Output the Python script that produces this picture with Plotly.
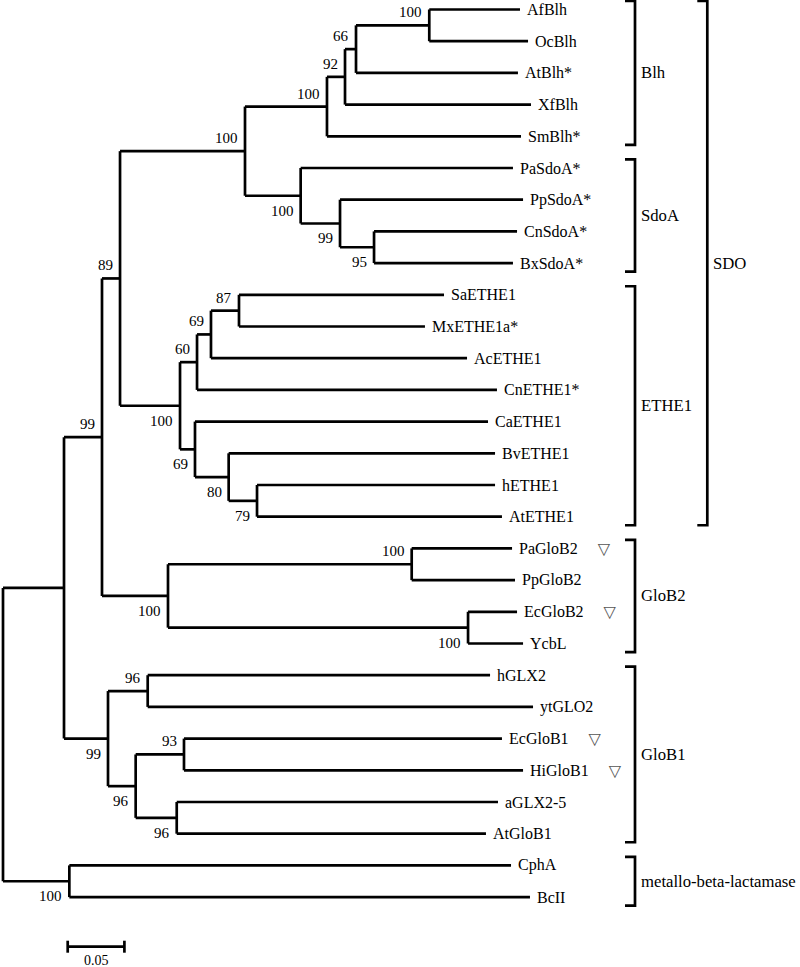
import plotly.graph_objects as go

# ---------------- data (tree) ----------------
# nodes in preorder: name, parent, depth from root (substitutions/site), bootstrap
node_names = [
    "root", "A", "B", "SDO", "C", "Blh", "n92", "n66", "n100Blh",
    "AfBlh", "OcBlh", "AtBlh*", "XfBlh", "SmBlh*",
    "SdoA", "PaSdoA*", "n99", "PpSdoA*", "n95", "CnSdoA*", "BxSdoA*",
    "ETHE1", "n60", "n69", "n87", "SaETHE1", "MxETHE1a*", "AcETHE1", "CnETHE1*",
    "n69b", "CaETHE1", "n80", "BvETHE1", "n79", "hETHE1", "AtETHE1",
    "GloB2", "n100a", "PaGloB2", "PpGloB2", "n100b", "EcGloB2", "YcbL",
    "GloB1", "n96", "hGLX2", "ytGLO2", "n96b", "n93", "EcGloB1", "HiGloB1",
    "n96c", "aGLX2-5", "AtGloB1",
    "MBL", "CphA", "BcII",
]
node_parent = [
    None, "root", "A", "B", "SDO", "C", "Blh", "n92", "n66",
    "n100Blh", "n100Blh", "n66", "n92", "Blh",
    "C", "SdoA", "SdoA", "n99", "n99", "n95", "n95",
    "SDO", "ETHE1", "n60", "n69", "n87", "n87", "n69", "n60",
    "ETHE1", "n69b", "n69b", "n80", "n80", "n79", "n79",
    "B", "GloB2", "n100a", "n100a", "GloB2", "n100b", "n100b",
    "A", "GloB1", "n96", "n96", "GloB1", "n96b", "n93", "n93",
    "n96b", "n96c", "n96c",
    "root", "MBL", "MBL",
]
node_depth = [
    0.0, 0.0538, 0.0873, 0.1032, 0.2134, 0.2857, 0.3016, 0.3113, 0.3759,
    0.4559, 0.4630, 0.4541, 0.4656, 0.4568,
    0.2625, 0.4497, 0.2972, 0.4586, 0.3272, 0.4533, 0.4497,
    0.1561, 0.1711, 0.1834, 0.2081, 0.3889, 0.3721, 0.4092, 0.4356,
    0.1693, 0.4277, 0.1990, 0.4339, 0.2240, 0.4339, 0.4400,
    0.1455, 0.3604, 0.4489, 0.4515, 0.4101, 0.4533, 0.4586,
    0.0926, 0.1276, 0.4295, 0.4674, 0.1170, 0.1596, 0.4400, 0.4586,
    0.1532, 0.4365, 0.4259,
    0.0585, 0.4480, 0.4647,
]
node_support = [
    None, None, 99, 89, 100, 100, 92, 66, 100,
    None, None, None, None, None,
    100, None, 99, None, 95, None, None,
    100, 60, 69, 87, None, None, None, None,
    69, None, 80, None, 79, None, None,
    100, 100, None, None, 100, None, None,
    99, 96, None, None, 96, 93, None, None,
    96, None, None,
    100, None, None,
]
# leaves flagged with an open triangle
marked_leaves = ["PaGloB2", "EcGloB2", "EcGloB1", "HiGloB1"]

# clade brackets
group_names = ["Blh", "SdoA", "ETHE1", "GloB2", "GloB1", "metallo-beta-lactamase", "SDO"]
group_first = ["AfBlh", "PaSdoA*", "SaETHE1", "PaGloB2", "hGLX2", "CphA", "AfBlh"]
group_last = ["SmBlh*", "BxSdoA*", "AtETHE1", "YcbL", "AtGloB1", "BcII", "AtETHE1"]
group_level = [0, 0, 0, 0, 0, 0, 1]

scale_length = 0.05

# ---------------- layout / style ----------------
W, H = 800, 967
PX_PER_UNIT = 1134.0      # horizontal pixels per substitution/site
X0_PX = 3.0               # pixel of root
PX_PER_LEAF = 31.7
Y0_PX = 9.5
FONT = "Liberation Serif, Times New Roman, serif"
LW = 2.7
below_labels = {"SdoA", "n99", "n95", "ETHE1", "n69b", "n80", "n79", "GloB2",
                "n100b", "GloB1", "n96b", "n96c", "MBL"}

depth = dict(zip(node_names, node_depth))
support = dict(zip(node_names, node_support))
children = {n: [] for n in node_names}
for n, p in zip(node_names, node_parent):
    if p is not None:
        children[p].append(n)
leaves = [n for n in node_names if not children[n]]
ypos = {n: i for i, n in enumerate(leaves)}
for n in reversed(node_names):
    if children[n]:
        ypos[n] = (ypos[children[n][0]] + ypos[children[n][-1]]) / 2.0

xs, ys = [], []
for n, p in zip(node_names, node_parent):
    if p is not None:
        xs += [depth[p], depth[n], None]
        ys += [ypos[n], ypos[n], None]
    if children[n]:
        xs += [depth[n], depth[n], None]
        ys += [ypos[children[n][0]], ypos[children[n][-1]], None]

fig = go.Figure()
fig.add_trace(go.Scatter(x=xs, y=ys, mode="lines",
                         line=dict(color="black", width=LW),
                         hoverinfo="skip", showlegend=False))

ann = []
for n in leaves:
    txt = n
    if n in marked_leaves:
        txt = n + "\u00a0" * 5 + "<span style='color:#555555;font-family:DejaVu Sans'>\u25BD</span>"
    ann.append(dict(x=depth[n], y=ypos[n], text=txt, showarrow=False,
                    xanchor="left", yanchor="middle", xshift=5,
                    font=dict(family=FONT, size=16, color="black")))
for n in node_names:
    if support[n] is not None:
        below = n in below_labels
        ann.append(dict(x=depth[n], y=ypos[n], text=str(support[n]), showarrow=False,
                        xanchor="right", yanchor="middle", xshift=-5,
                        yshift=-15 if below else 13,
                        font=dict(family=FONT, size=15, color="black")))

# brackets
shapes = []
bx = [(635 - X0_PX) / PX_PER_UNIT, (707.3 - X0_PX) / PX_PER_UNIT]
tick = 10 / PX_PER_UNIT
pad = 0.27
for g, f, l, lev in zip(group_names, group_first, group_last, group_level):
    y1, y2 = ypos[f] - pad, ypos[l] + pad
    x = bx[lev]
    shapes.append(dict(type="path",
                       path=f"M {x - tick} {y1} L {x} {y1} L {x} {y2} L {x - tick} {y2}",
                       line=dict(color="black", width=LW)))
    ann.append(dict(x=x, y=(y1 + y2) / 2, text=g, showarrow=False,
                    xanchor="left", yanchor="middle", xshift=4,
                    font=dict(family=FONT, size=16.7, color="black")))

# scale bar
sb_x0 = (67.7 - X0_PX) / PX_PER_UNIT
sb_y = (946.7 - Y0_PX) / PX_PER_LEAF
sb_t = 6 / PX_PER_LEAF
shapes.append(dict(type="line", x0=sb_x0, x1=sb_x0 + scale_length, y0=sb_y, y1=sb_y,
                   line=dict(color="black", width=LW)))
for xx in (sb_x0, sb_x0 + scale_length):
    shapes.append(dict(type="line", x0=xx, x1=xx, y0=sb_y - sb_t, y1=sb_y + sb_t,
                       line=dict(color="black", width=LW)))
ann.append(dict(x=sb_x0 + scale_length / 2, y=sb_y, text=str(scale_length), showarrow=False,
                xanchor="center", yanchor="middle", yshift=-14,
                font=dict(family=FONT, size=14, color="black")))

fig.update_layout(
    width=W, height=H, margin=dict(l=0, r=0, t=0, b=0),
    paper_bgcolor="white", plot_bgcolor="white",
    xaxis=dict(range=[-X0_PX / PX_PER_UNIT, (W - X0_PX) / PX_PER_UNIT],
               visible=False, fixedrange=True),
    yaxis=dict(range=[(H - Y0_PX) / PX_PER_LEAF, -Y0_PX / PX_PER_LEAF],
               visible=False, fixedrange=True),
    annotations=ann, shapes=shapes, showlegend=False,
)
fig.write_html("out.html",
               post_script="document.body.style.margin='0';document.body.style.overflow='hidden';",
               config={"displayModeBar": False})
